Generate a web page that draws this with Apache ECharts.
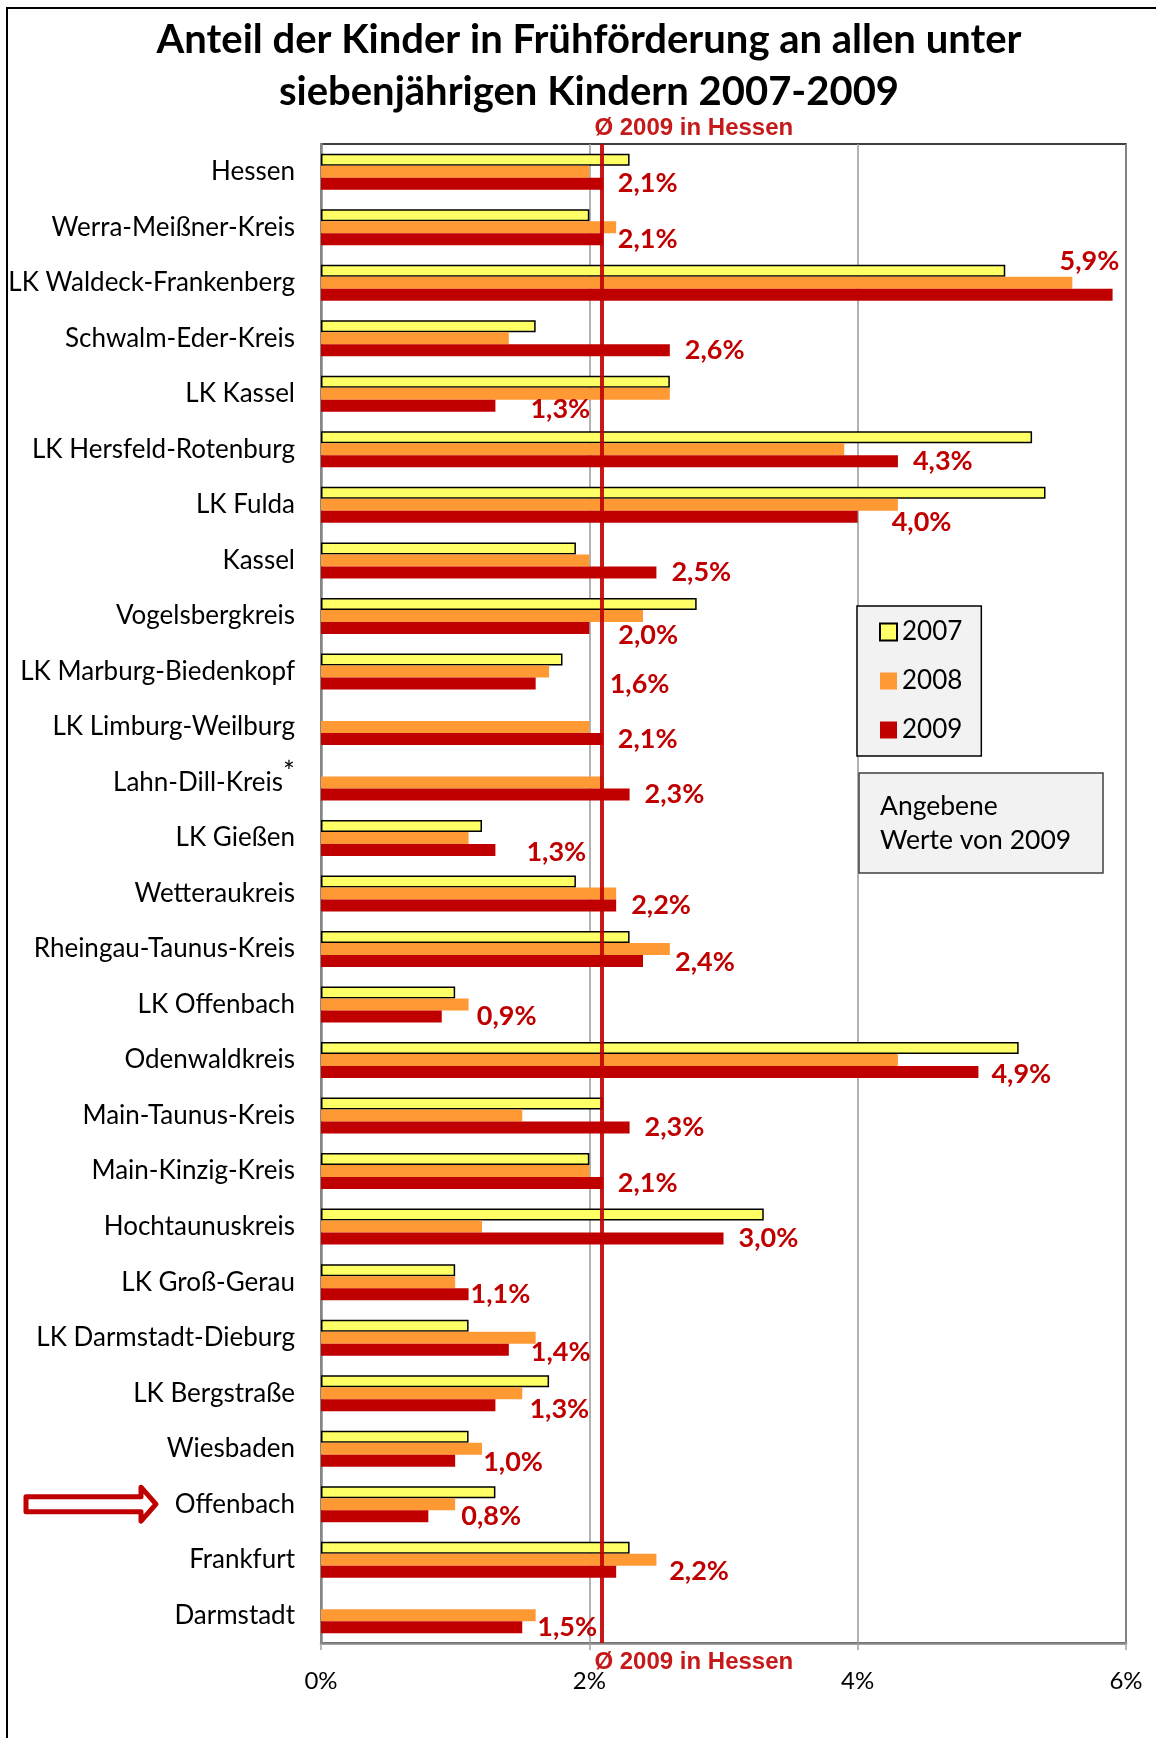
<!DOCTYPE html>
<html>
<head>
<meta charset="utf-8">
<title>Frühförderung 2007-2009</title>
<script src="https://cdn.jsdelivr.net/npm/echarts@6/dist/echarts.min.js"></script>
<style>
  body { margin: 0; background: #fff; }
  #chart { position: relative; width: 1156px; height: 1738px; }
  #frame { position: absolute; left: 6px; top: 7px; width: 1200px; height: 1800px;
           border-left: 2px solid #000; border-top: 2px solid #000; pointer-events: none; }
</style>
</head>
<body>
<div id="chart"></div>
<div id="frame"></div>
<script>
// Kreise / Städte, von oben nach unten
var categories = ['Hessen', 'Werra-Meißner-Kreis', 'LK Waldeck-Frankenberg', 'Schwalm-Eder-Kreis',
  'LK Kassel', 'LK Hersfeld-Rotenburg', 'LK Fulda', 'Kassel', 'Vogelsbergkreis',
  'LK Marburg-Biedenkopf', 'LK Limburg-Weilburg', 'Lahn-Dill-Kreis', 'LK Gießen',
  'Wetteraukreis', 'Rheingau-Taunus-Kreis', 'LK Offenbach', 'Odenwaldkreis',
  'Main-Taunus-Kreis', 'Main-Kinzig-Kreis', 'Hochtaunuskreis', 'LK Groß-Gerau',
  'LK Darmstadt-Dieburg', 'LK Bergstraße', 'Wiesbaden', 'Offenbach', 'Frankfurt', 'Darmstadt'];

// Anteile in %
var v2007 = [2.3, 2.0, 5.1, 1.6, 2.6, 5.3, 5.4, 1.9, 2.8, 1.8, null, null, 1.2, 1.9, 2.3, 1.0, 5.2,
  2.1, 2.0, 3.3, 1.0, 1.1, 1.7, 1.1, 1.3, 2.3, null];
var v2008 = [2.0, 2.2, 5.6, 1.4, 2.6, 3.9, 4.3, 2.0, 2.4, 1.7, 2.0, 2.1, 1.1, 2.2, 2.6, 1.1, 4.3,
  1.5, 2.0, 1.2, 1.0, 1.6, 1.5, 1.2, 1.0, 2.5, 1.6];
var v2009 = [2.1, 2.1, 5.9, 2.6, 1.3, 4.3, 4.0, 2.5, 2.0, 1.6, 2.1, 2.3, 1.3, 2.2, 2.4, 0.9, 4.9,
  2.3, 2.1, 3.0, 1.1, 1.4, 1.3, 1.0, 0.8, 2.2, 1.5];

var hessenAvg = 2.09;
var xTicks = [0, 2, 4, 6];

// Verschiebung einzelner Wertelabels (px), wie im Original
var labelNudge = {
  'LK Waldeck-Frankenberg': [-68, -33], 'LK Kassel': [20, 3], 'LK Fulda': [19, 5],
  'Vogelsbergkreis': [14, 7], 'LK Marburg-Biedenkopf': [59, 1], 'LK Gießen': [16, 2],
  'Rheingau-Taunus-Kreis': [17, 1], 'LK Offenbach': [20, 0], 'Odenwaldkreis': [-2, 2],
  'LK Groß-Gerau': [-13, 0], 'LK Darmstadt-Dieburg': [7, 3], 'LK Bergstraße': [19, 4],
  'Wiesbaden': [13, 2], 'Offenbach': [18, 0], 'Frankfurt': [38, 0]
};

var RED = '#C00000';
var FONT = 'Lato';

function fmt(v) {
  return v.toFixed(1).replace('.', ',') + '%';
}

var data2009 = v2009.map(function (v, i) {
  var n = labelNudge[categories[i]] || [0, 0];
  return { value: v, label: { offset: n } };
});

var chart = echarts.init(document.getElementById('chart'));

var option = {
  backgroundColor: '#fff',
  animation: false,
  textStyle: { fontFamily: FONT },
  title: [{
    text: 'Anteil der Kinder in Frühförderung an allen unter\nsiebenjährigen Kindern 2007-2009',
    left: 589,
    textAlign: 'center',
    top: 14,
    padding: 0,
    textStyle: { fontFamily: FONT, fontSize: 40, fontWeight: 'bold', color: '#000', lineHeight: 52 }
  }, {
    text: 'Angebene\nWerte von 2009',
    left: 859,
    top: 773,
    padding: [16, 32, 16, 21],
    backgroundColor: '#F2F2F2',
    borderColor: '#404040',
    borderWidth: 1.5,
    textStyle: { fontFamily: FONT, fontSize: 26.5, fontWeight: 'normal', color: '#000', lineHeight: 34 }
  }],
  legend: {
    data: ['2007', '2008', '2009'],
    orient: 'vertical',
    left: 857,
    top: 606,
    padding: [13, 19, 13, 22],
    backgroundColor: '#F2F2F2',
    borderColor: '#000',
    borderWidth: 1.5,
    itemWidth: 17,
    itemHeight: 17,
    itemGap: 23,
    icon: 'rect',
    textStyle: { fontFamily: FONT, fontSize: 26, lineHeight: 25, color: '#000' }
  },
  grid: {
    left: 321, right: 30, top: 144, bottom: 95,
    show: true, borderColor: '#000', borderWidth: 1.5
  },
  xAxis: {
    type: 'value',
    min: xTicks[0],
    max: xTicks[xTicks.length - 1],
    interval: 2,
    axisLine: { show: true, lineStyle: { color: '#868686', width: 2.5 } },
    axisTick: { show: true, length: 7, lineStyle: { color: '#A0A0A0', width: 1.5 } },
    splitLine: { show: true, lineStyle: { color: '#9A9A9A', width: 1.5 } },
    axisLabel: {
      margin: 26,
      fontFamily: FONT, fontSize: 24, color: '#000',
      formatter: '{value}%'
    }
  },
  yAxis: {
    type: 'category',
    inverse: true,
    data: categories,
    axisLine: { show: true, lineStyle: { color: '#868686', width: 2.5 } },
    axisTick: { show: false },
    axisLabel: {
      margin: 26,
      fontFamily: FONT, fontSize: 26, color: '#000',
      formatter: function (v) {
        return v === 'Lahn-Dill-Kreis' ? v + '{sup|*}' : v;
      },
      rich: {
        sup: { fontFamily: FONT, fontSize: 28, color: '#000', padding: [0, 0, 18, 0] }
      }
    }
  },
  series: [{
    name: '2007',
    type: 'bar',
    data: v2007,
    barWidth: 12,
    barGap: '0%',
    itemStyle: { color: '#FFFF66', borderColor: '#000', borderWidth: 1.5 }
  }, {
    name: '2008',
    type: 'bar',
    data: v2008,
    barWidth: 12,
    barGap: '0%',
    itemStyle: { color: '#FF9933' }
  }, {
    name: '2009',
    type: 'bar',
    data: data2009,
    barWidth: 12,
    barGap: '0%',
    itemStyle: { color: RED },
    label: {
      show: true,
      position: 'right',
      distance: 15,
      fontFamily: FONT, fontSize: 27, fontWeight: 'bold', color: RED,
      formatter: function (p) { return fmt(p.value); }
    },
    markLine: {
      silent: true,
      symbol: 'none',
      animation: false,
      lineStyle: { color: RED, width: 4, type: 'solid', opacity: 0.9 },
      label: {
        fontFamily: 'Liberation Sans', fontSize: 24, fontWeight: 'bold', color: RED,
        formatter: 'Ø 2009 in Hessen'
      },
      data: [
        { xAxis: hessenAvg, label: { position: 'end', align: 'left', distance: 7, offset: [-7, 0] } },
        { xAxis: hessenAvg, lineStyle: { width: 0 }, label: { position: 'start', align: 'left', distance: 4, offset: [-7, 0] } }
      ]
    }
  }]
};

chart.setOption(option);

// Pfeil vor "Offenbach"
var yOff = chart.convertToPixel({ yAxisIndex: 0 }, 'Offenbach');
chart.setOption({
  graphic: [{
    type: 'polygon',
    shape: {
      points: [[26, yOff - 7.5], [141, yOff - 7.5], [141, yOff - 17], [156, yOff],
               [141, yOff + 17], [141, yOff + 7.5], [26, yOff + 7.5]]
    },
    style: { fill: '#fff', stroke: RED, lineWidth: 5, lineJoin: 'round' }
  }]
});
</script>
</body>
</html>
